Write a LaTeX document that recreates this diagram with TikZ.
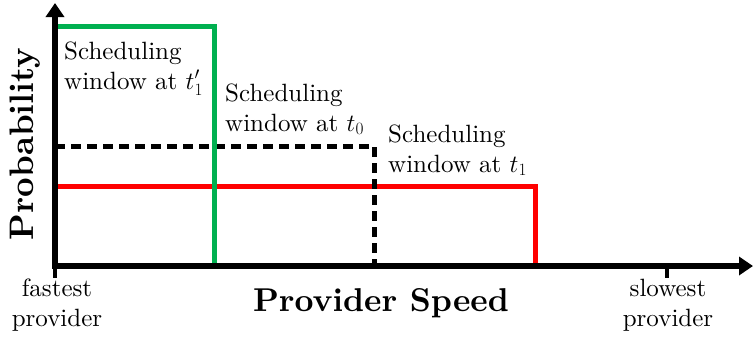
\documentclass[tikz,border=0pt]{standalone}
\usepackage{fontspec}
\setmainfont{lmroman10-regular.otf}[BoldFont=lmroman10-bold.otf,ItalicFont=lmroman10-italic.otf]
\usetikzlibrary{arrows.meta}
\definecolor{wingreen}{RGB}{0,176,80}
\definecolor{winred}{RGB}{255,0,0}
\begin{document}
\begin{tikzpicture}[x=1pt,y=-1pt,
  axis/.style={line width=5.5pt,-{Triangle[length=14pt,width=18pt]}},
  tick/.style={line width=3.5pt},
  window/.style={line width=5pt},
  lbl/.style={inner sep=0pt,align=left,anchor=base west,font=\fontsize{25}{30}\selectfont},
  endlbl/.style={inner sep=0pt,align=center,anchor=base,font=\fontsize{25}{30}\selectfont},
  axtitle/.style={inner sep=0pt,anchor=base,font=\fontsize{33}{36}\selectfont\bfseries}]
\useasboundingbox (0,0) rectangle (755,338);

% corner points of the axes
\coordinate (O) at (55,266);
\coordinate (ytop) at (55,3);
\coordinate (xend) at (753,266);
\coordinate (slow) at (667,266);

% scheduling windows
\coordinate (g1) at (55,26);  \coordinate (g2) at (214,26);  \coordinate (g3) at (214,266);
\coordinate (k1) at (55,146); \coordinate (k2) at (374,146); \coordinate (k3) at (374,266);
\coordinate (r1) at (55,186); \coordinate (r2) at (535,186); \coordinate (r3) at (535,266);

\draw[window,winred] (r1) -- (r2) -- (r3);
\draw[window,black,dash pattern=on 10pt off 6pt] (k1) -- (k2) -- (k3);
\draw[window,wingreen] (g1) -- (g2) -- (g3);

% axes and ticks
\draw[axis] ([yshift=2.75pt]O) -- (ytop);
\draw[axis] ([xshift=-2.75pt]O) -- (xend);
\draw[tick] (O) -- ++(0,12);
\draw[tick] (slow) -- ++(0,12);

% labels (anchored on the baseline of their last line)
\node[lbl] (wt1p) at (64,89) {Scheduling\\window at $t'_1$};
\node[lbl] (wt0) at (225,131) {Scheduling\\window at $t_0$};
\node[lbl] (wt1) at (388,172) {Scheduling\\window at $t_1$};

\node[endlbl] (fast) at (57,326) {fastest\\provider};
\node[endlbl] (slowlbl) at (668,326) {slowest\\provider};

\node[axtitle] (xlab) at (381,311) {Provider Speed};
\node[axtitle,rotate=90,font=\fontsize{34}{38}\selectfont\bfseries] (ylab) at (34,144) {Probability};
\end{tikzpicture}
\end{document}
